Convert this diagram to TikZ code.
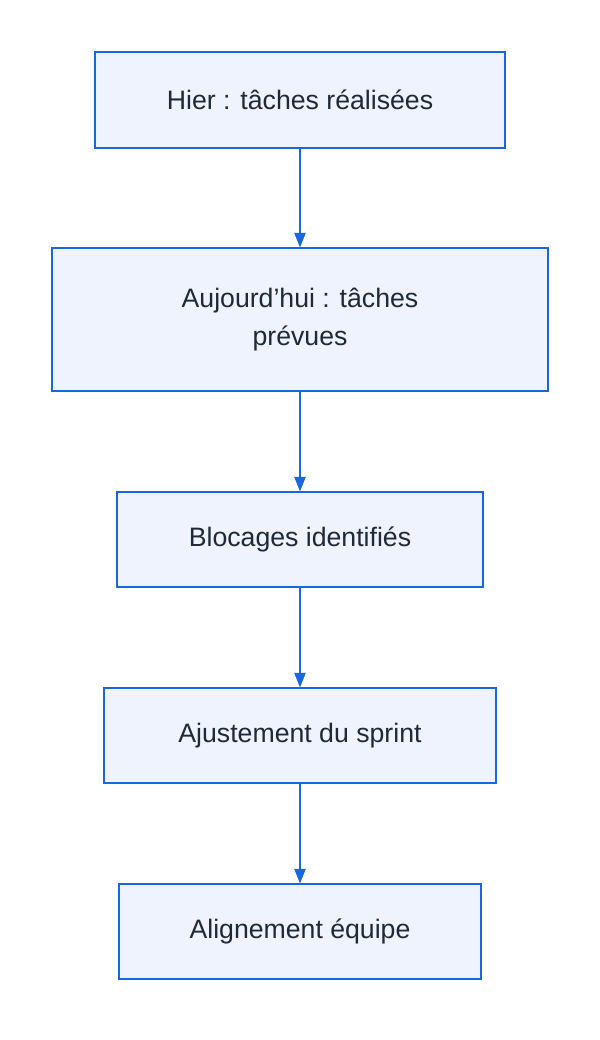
\documentclass[tikz,border=0pt]{standalone}
\usepackage{fontspec}
\setmainfont{Liberation Sans}
\usetikzlibrary{arrows.meta}
\definecolor{boxfill}{HTML}{EEF3FD}
\definecolor{boxline}{HTML}{1A66E0}
\definecolor{txt}{HTML}{1F2937}
\begin{document}
\begin{tikzpicture}[x=0.75pt,y=0.75pt,yscale=-1,xscale=1,
  stage/.style={draw=boxline,fill=boxfill,line width=1.1pt,text=txt,
    font=\fontsize{20}{29}\selectfont,align=center,inner sep=0pt},
  link/.style={draw=boxline,line width=1.1pt,-{Triangle[length=11pt,width=8.5pt]}}]
\useasboundingbox (0,0) rectangle (600,1040);

% Stages
\node [stage,minimum width=307.5pt,minimum height=72pt] (hier) at (300,100) {Hier : tâches réalisées};
\node [stage,minimum width=372pt,minimum height=107pt] (auj) at (300,319.5) {Aujourd'hui : tâches\\prévues};
\node [stage,minimum width=274.5pt,minimum height=71pt] (bloc) at (300,539.5) {Blocages identifiés};
\node [stage,minimum width=294pt,minimum height=71pt] (ajust) at (300,735.5) {Ajustement du sprint};
\node [stage,minimum width=271.5pt,minimum height=71pt] (align) at (300,931.5) {Alignement équipe};

% Links
\draw [link] (hier) -- (auj);
\draw [link] (auj) -- (bloc);
\draw [link] (bloc) -- (ajust);
\draw [link] (ajust) -- (align);

\end{tikzpicture}
\end{document}
